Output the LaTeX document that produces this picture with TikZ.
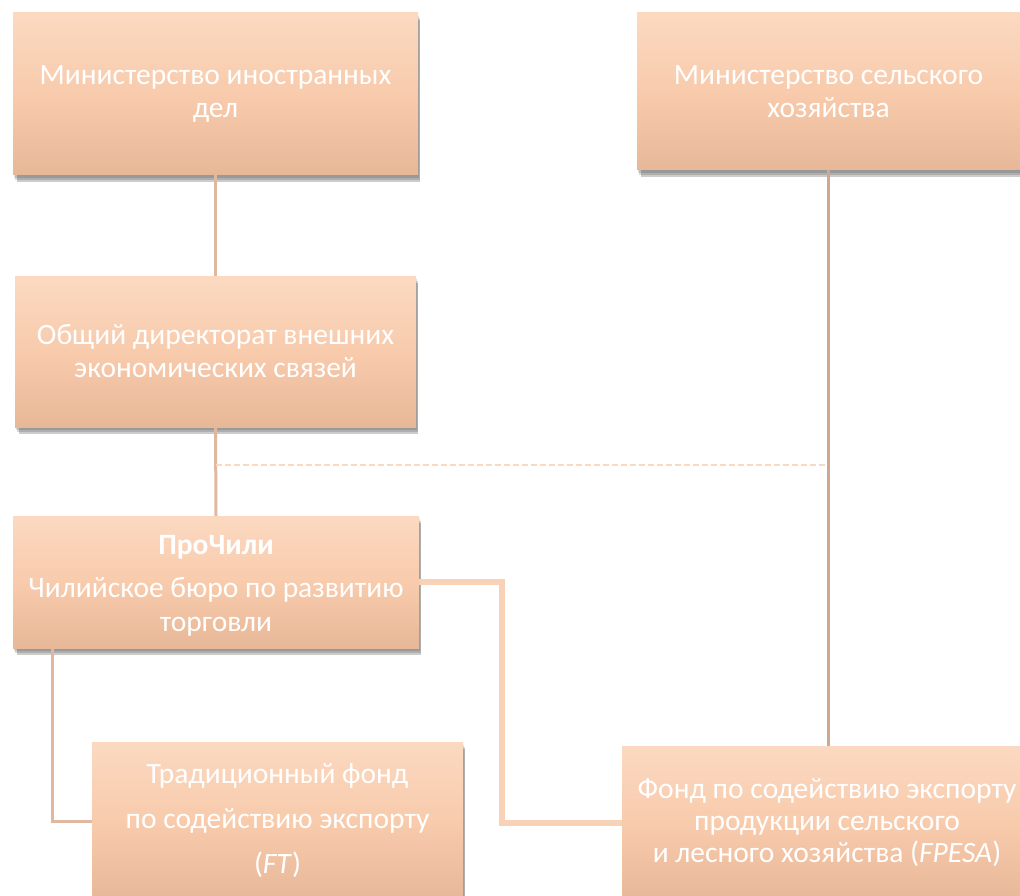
\documentclass[tikz,border=0pt]{standalone}
\usepackage{fontspec}
\setmainfont{Carlito}
\usetikzlibrary{shadows,calc}
\definecolor{boxtop}{RGB}{251,217,193}
\definecolor{boxmid}{RGB}{248,203,172}
\definecolor{boxbot}{RGB}{231,184,152}
\definecolor{linetan}{RGB}{224,184,160}
\definecolor{linebrown}{RGB}{208,168,144}
\definecolor{linepeach}{RGB}{248,210,182}
\definecolor{dashpeach}{RGB}{250,216,194}
\tikzset{
  softshadow/.style={
    general shadow={fill=black, opacity=0.12, shadow xshift=1pt, shadow yshift=-3pt},
    general shadow={fill=black, opacity=0.15, shadow xshift=2pt, shadow yshift=-5pt},
    general shadow={fill=black, opacity=0.2, shadow xshift=3pt, shadow yshift=-7pt, shadow scale=0.995}},
  orgbox/.style={rectangle, inner sep=2pt, align=center, text=white,
    font=\fontsize{29.5}{33}\selectfont,
    top color=boxtop, bottom color=boxbot, middle color=boxmid, softshadow},
  boxtext/.style={align=center, text=white, inner sep=0pt},
  thinlink/.style={draw=linetan, line width=3pt},
  brownlink/.style={draw=linebrown, line width=3pt},
  thicklink/.style={draw=linepeach, line width=5.5pt},
  dashlink/.style={draw=dashpeach, line width=2.5pt, dash pattern=on 6pt off 3pt}
}
\begin{document}
\begin{tikzpicture}[x=1pt,y=-1pt]
\useasboundingbox (0,0) rectangle (1020,896);
\node[orgbox, minimum width=405pt, minimum height=162pt] (mfa) at (215.5,94) {Министерство иностранных\\дел};
\node[orgbox, minimum width=383pt, minimum height=157pt] (agri) at (828.5,91.5) {Министерство сельского\\хозяйства};
\node[orgbox, minimum width=401pt, minimum height=151pt] (dg) at (215.5,351.5) {Общий директорат внешних\\экономических связей};
\node[orgbox, minimum width=406pt, minimum height=132pt] (pro) at (216,582) {};
\node[boxtext, font=\fontsize{29.5}{34}\selectfont] (protext) at ($(pro.center)+(0,4)$) {\textbf{ПроЧили}\\[9pt]Чилийское бюро по развитию\\торговли};
\node[orgbox, minimum width=371pt, minimum height=158pt, font=\fontsize{29.5}{45}\selectfont] (ft) at (277.5,821) {Традиционный фонд\\по содействию экспорту\\(\textit{FT})};
\node[orgbox, minimum width=410pt, minimum height=154pt, font=\fontsize{29.5}{32}\selectfont] (fpesa) at (827,823) {Фонд по содействию экспорту\\продукции сельского\\и лесного хозяйства (\textit{FPESA})};
\coordinate (dashL) at ($(dg.south)+(0,38)$);
\draw[thinlink] (mfa.south) -- (dg.north);
\draw[thinlink] (dg.south) -- (pro.north);
\draw[dashlink] (dashL) -- (dashL -| agri.south);
\draw[brownlink] (agri.south) -- (agri.south |- fpesa.north);
\draw[thinlink] ($(pro.south west)+(40,0)$) |- (ft.west);
\draw[thicklink] (pro.east) -- ++(83,0) |- (fpesa.west);
\end{tikzpicture}
\end{document}
